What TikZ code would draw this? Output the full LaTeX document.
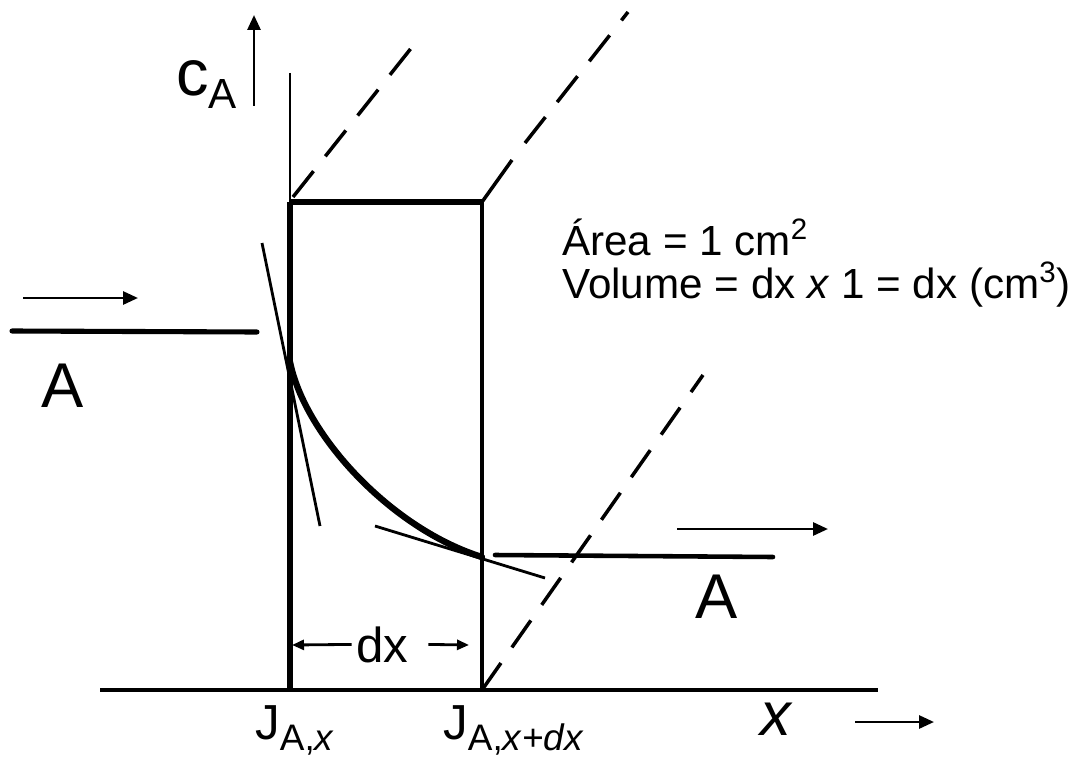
\documentclass[tikz,border=0pt]{standalone}
\usepackage{fontspec}
\setmainfont{Liberation Sans}
\usetikzlibrary{arrows.meta,positioning}

\begin{document}
\begin{tikzpicture}[
  x=0.02cm,y=-0.02cm,
  wall/.style={line width=2.9pt},
  baseaxis/.style={line width=2.2pt},
  thinline/.style={line width=1.6pt},
  guide/.style={line width=2pt,dash pattern=on 0.66cm off 0.38cm},
  flow/.style={line width=1.6pt,-{Triangle[length=0.3cm,width=0.26cm]}},
  dimarrow/.style={line width=1.6pt,-{Triangle[length=0.24cm,width=0.2cm]}},
  bigletter/.style={inner sep=0pt,font=\fontsize{36}{36}\selectfont},
  fluxlabel/.style={inner sep=0pt,anchor=base west,font=\fontsize{28}{28}\selectfont},
  infotext/.style={inner sep=0pt,anchor=base west,font=\fontsize{24}{24}\selectfont}
]
  \useasboundingbox (0,0) rectangle (1077,760);

  \coordinate (tl) at (290,202);
  \coordinate (tr) at (482,202);
  \coordinate (bl) at (290,690);
  \coordinate (br) at (482,690);
  \coordinate (walltop) at (290,73);
  \coordinate (axisL) at (100,690);
  \coordinate (axisR) at (878,690);
  \coordinate (guideA) at (420,37);
  \coordinate (guideB) at (628,12);
  \coordinate (guideBs) at (512,160);
  \coordinate (guideC) at (703,375);
  \coordinate (inL) at (12,331);
  \coordinate (inR) at (257,332);
  \coordinate (outL) at (495,555);
  \coordinate (outR) at (773,557);
  \coordinate (inArrL) at (23,298);
  \coordinate (inArrR) at (138,298);
  \coordinate (outArrL) at (677,529);
  \coordinate (outArrR) at (828,529);
  \coordinate (cBot) at (254,106);
  \coordinate (cTop) at (254,15);
  \coordinate (xArrL) at (855,722);
  \coordinate (xArrR) at (934,722);
  \coordinate (dxL) at (292,645);
  \coordinate (dxR) at (469,645);
  \coordinate (cin) at (290,362);
  \coordinate (cout) at (482,557);

  \draw[line width=1.7pt] (walltop) -- (tl);
  \draw[line width=3.2pt] (tl) -- (bl);
  \draw[wall] (tl) -- (tr);
  \draw[line width=2.4pt] (tr) -- (br);
  \draw[baseaxis] (axisL) -- (axisR);

  \draw[guide] (293,197) -- (guideA);
  \draw[line width=2pt] (tr) -- (guideBs);
  \draw[guide] (525,143) -- (guideB);
  \draw[guide] (br) -- (guideC);

  \draw[wall,line cap=round] (inL) -- (inR);
  \draw[line width=2.6pt,line cap=round] (outL) -- (outR);
  \draw[flow] (inArrL) -- (inArrR);
  \draw[flow] (outArrL) -- (outArrR);
  \draw[flow] (cBot) -- (cTop);
  \draw[flow] (xArrL) -- (xArrR);

  \draw[thinline] (262,243) -- (320,526);
  \draw[thinline] (375,526) -- (545,578);
  \draw[line width=3.6pt,line cap=round] (cin) .. controls (305,436) and (392,529) .. (cout);

  \node[inner sep=0pt,anchor=base east] (conc) at (237,96)
    {\fontsize{37}{37}\selectfont c\raisebox{-7pt}{\fontsize{24}{24}\selectfont A}};
  \node[bigletter] (inA) at (63,386) {A};
  \node[bigletter] (outA) at (717,597) {A};
  \node[inner sep=0pt,anchor=base,font=\fontsize{28}{28}\selectfont] (dx) at (382,662) {dx};
  \draw[dimarrow] ([xshift=-0.08cm]dx.west) -- (dxL);
  \draw[dimarrow] ([xshift=0.4cm]dx.east) -- (dxR);
  \node[fluxlabel] (Jx) at (255,739)
    {J\raisebox{-6.6pt}{\fontsize{21}{21}\selectfont A,\textit{x}}};
  \node[fluxlabel] (Jxdx) at (443,739)
    {J\raisebox{-6.6pt}{\fontsize{21}{21}\selectfont A,\textit{x}+\textit{dx}}};
  \node[inner sep=0pt,anchor=base,font=\fontsize{35}{35}\selectfont\itshape] (xlab) at (776,735) {x};
  \node[infotext] (area) at (562,255) {Área = 1 cm\textsuperscript{2}};
  \node[infotext] (volume) at (562,298) {Volume = dx \textit{x} 1 = dx (cm\textsuperscript{3})};
\end{tikzpicture}
\end{document}
